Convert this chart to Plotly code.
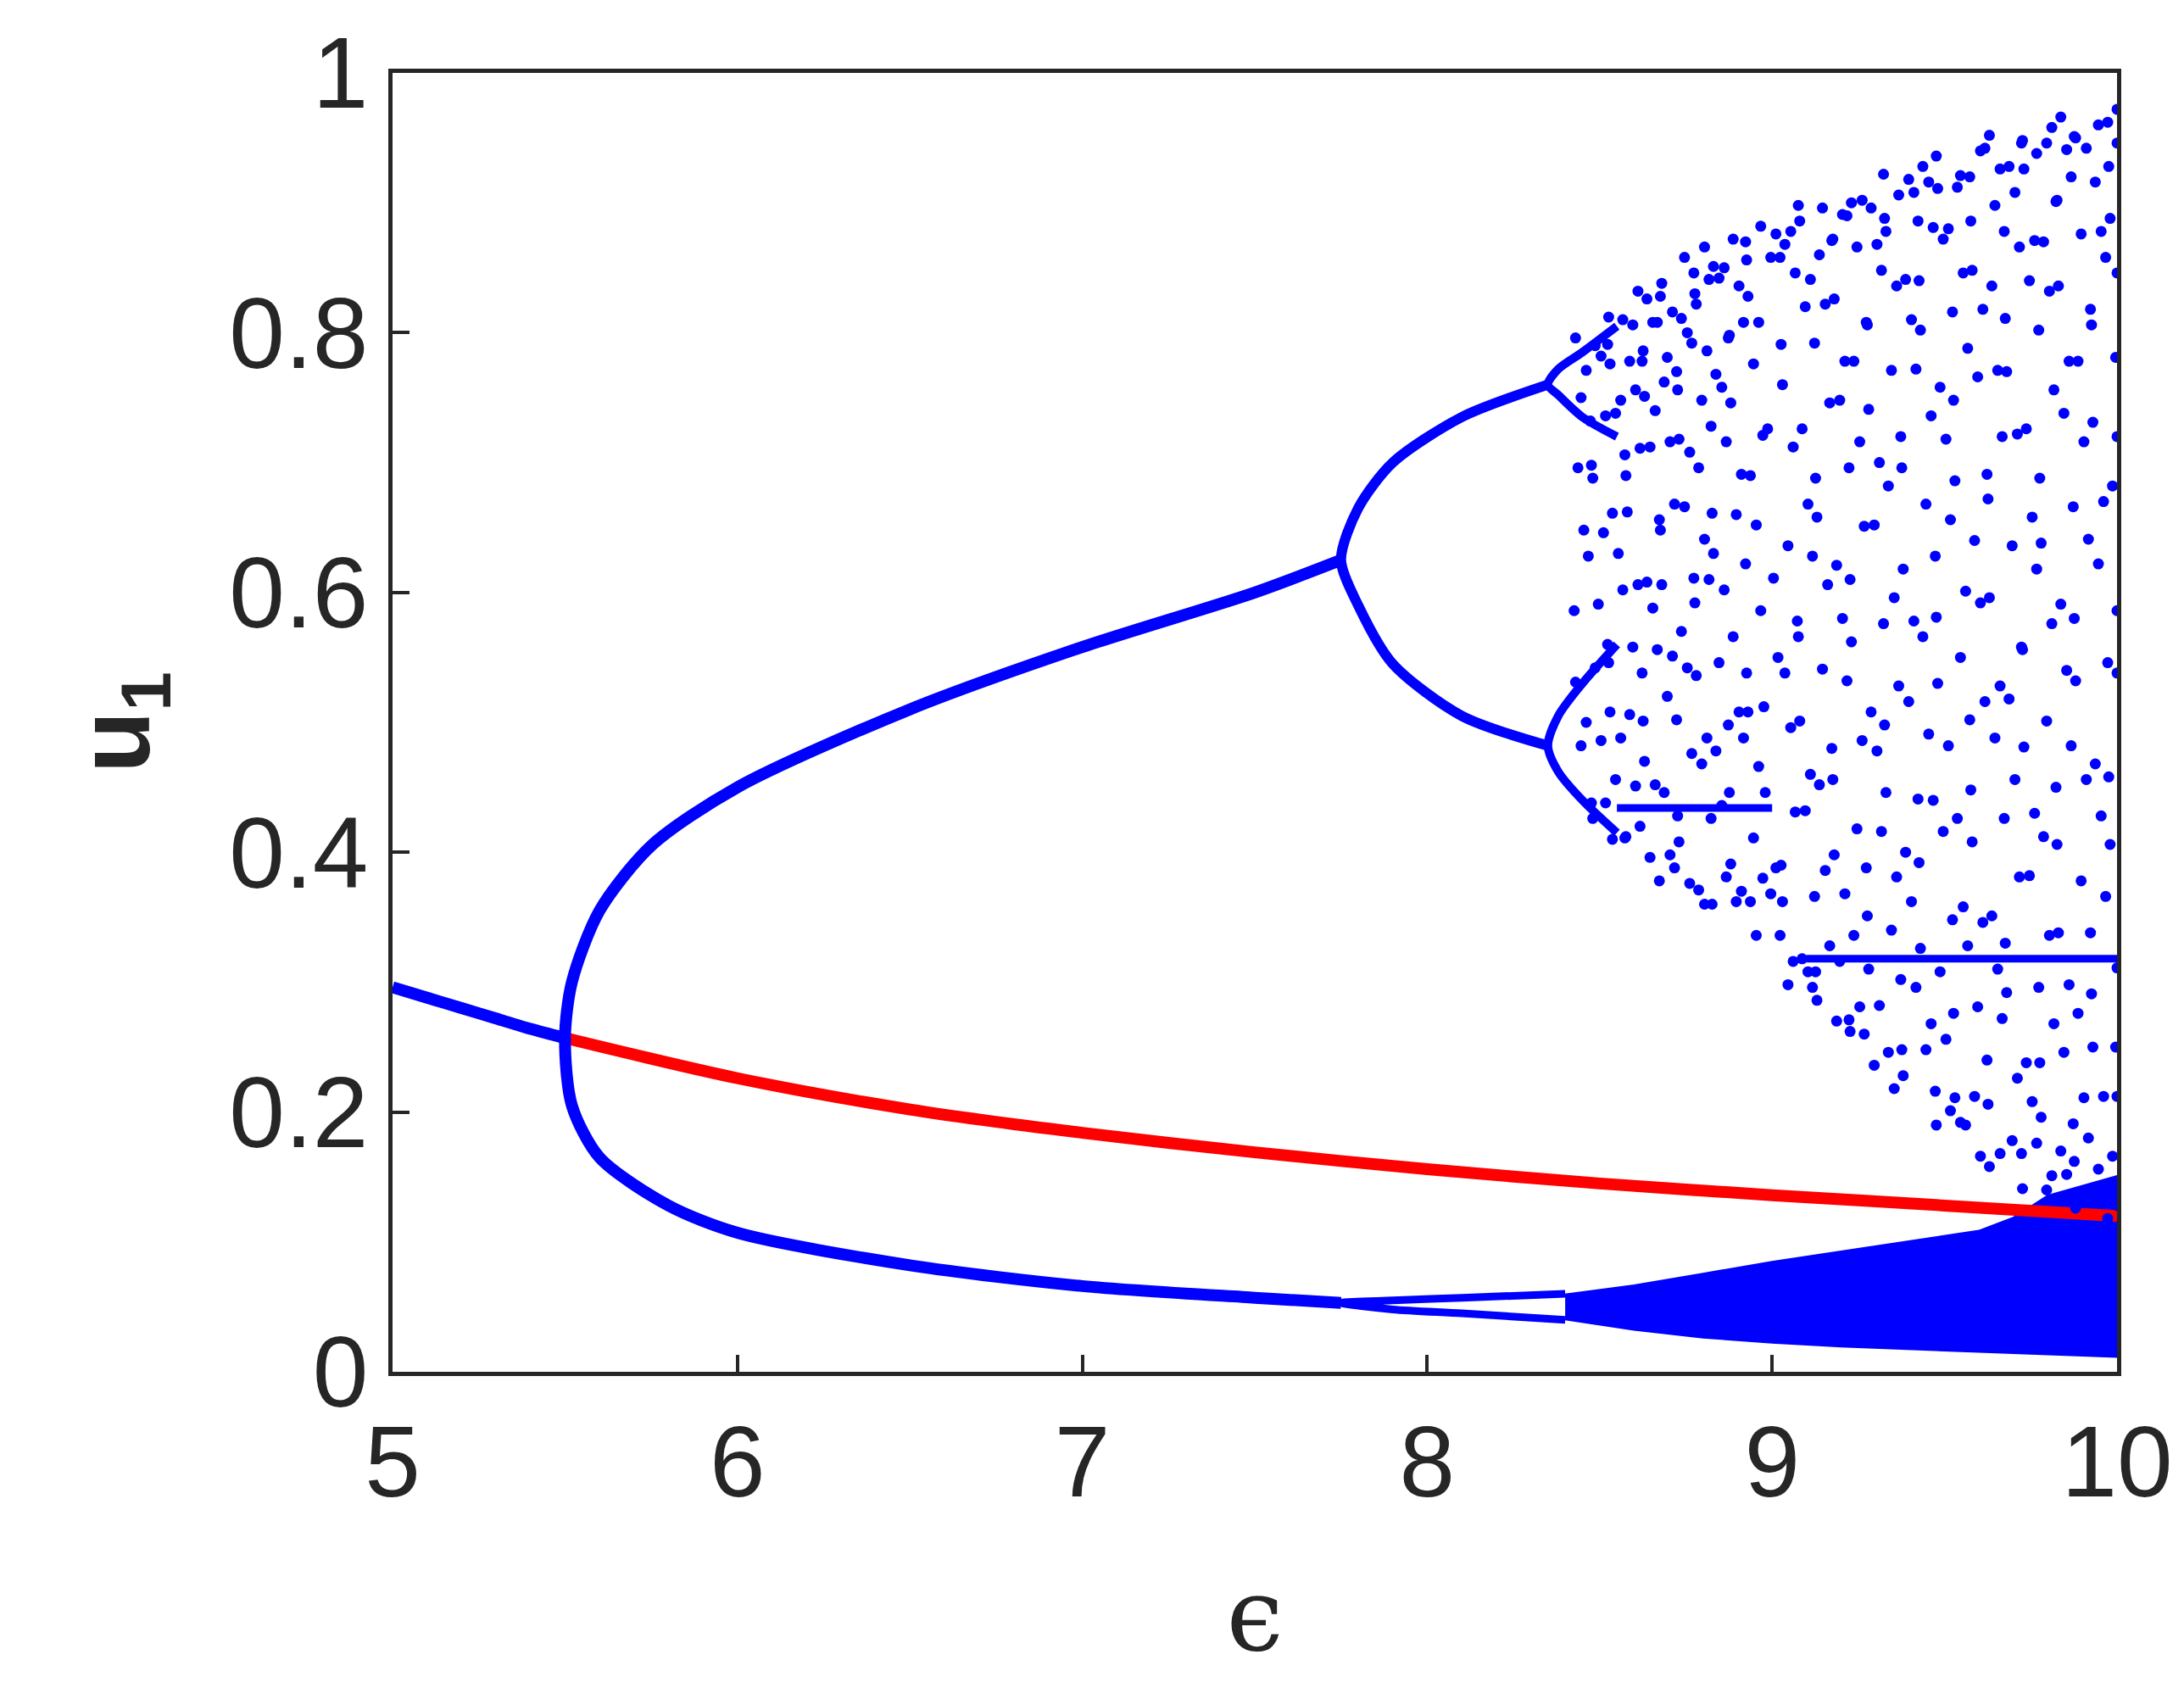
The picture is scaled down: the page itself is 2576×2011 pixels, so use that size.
import plotly.graph_objects as go

# single branch and its unstable continuation (red)
eps_fixed = [5.0, 5.1, 5.2, 5.3, 5.4, 5.5]
u_fixed = [0.296, 0.288, 0.280, 0.272, 0.264, 0.257]
eps_red = [5.5, 6.0, 6.5, 7.0, 7.5, 8.0, 8.5, 9.0, 9.5, 10.0]
u_red = [0.257, 0.226, 0.202, 0.184, 0.169, 0.156, 0.145, 0.136, 0.128, 0.120]

# period-2 branch (upper then lower, joined at the fold)
eps_p2 = [7.75, 7.5, 7.0, 6.5, 6.0, 5.75, 5.6, 5.52, 5.5, 5.52, 5.6, 5.8, 6.0, 6.5, 7.0, 7.5, 7.75]
u_p2 = [0.625, 0.600, 0.558, 0.510, 0.450, 0.405, 0.355, 0.300, 0.257, 0.205, 0.165, 0.128, 0.107, 0.082, 0.066, 0.057, 0.053]

# period-4 loops
eps_p4a = [8.35, 8.1, 7.9, 7.8, 7.75, 7.8, 7.9, 8.1, 8.35]
u_p4a = [0.760, 0.735, 0.700, 0.665, 0.625, 0.590, 0.545, 0.505, 0.482]
eps_p4b = [8.40, 8.1, 7.9, 7.75, 7.9, 8.1, 8.40]
u_p4b = [0.060, 0.057, 0.055, 0.053, 0.048, 0.045, 0.040]

# period-8 splits
eps_p8a = [8.55, 8.45, 8.38, 8.35, 8.38, 8.45, 8.55]
u_p8a = [0.805, 0.785, 0.772, 0.760, 0.752, 0.735, 0.720]
eps_p8b = [8.55, 8.45, 8.38, 8.35, 8.38, 8.45, 8.55]
u_p8b = [0.560, 0.530, 0.505, 0.482, 0.462, 0.440, 0.415]

# periodic window lines
eps_w1 = [8.55, 9.0]
u_w1 = [0.434, 0.434]
eps_w2 = [9.1, 10.0]
u_w2 = [0.318, 0.318]

# dense low band envelope
eps_band = [8.4, 8.6, 8.8, 9.0, 9.2, 9.4, 9.6, 9.7, 9.8, 10.0, 10.0, 9.8, 9.6, 9.4, 9.2, 9.0, 8.8, 8.6, 8.4]
u_band = [0.059, 0.066, 0.075, 0.084, 0.092, 0.100, 0.108, 0.118, 0.135, 0.150, 0.012, 0.014, 0.016, 0.018, 0.020, 0.023, 0.027, 0.033, 0.041]

# chaotic cloud, read column by column
cloud = {
    8.45: [0.79, 0.78, 0.75, 0.72, 0.70, 0.66, 0.62, 0.58, 0.54, 0.50, 0.47, 0.44],
    8.50: [0.80, 0.79, 0.77, 0.74, 0.71, 0.68, 0.64, 0.60, 0.56, 0.53, 0.49, 0.45, 0.43, 0.42],
    8.55: [0.81, 0.80, 0.78, 0.76, 0.73, 0.70, 0.67, 0.63, 0.59, 0.55, 0.52, 0.48, 0.45, 0.42, 0.41],
    8.60: [0.82, 0.81, 0.79, 0.77, 0.75, 0.72, 0.69, 0.65, 0.61, 0.57, 0.53, 0.50, 0.46, 0.42, 0.40],
    8.65: [0.83, 0.82, 0.80, 0.78, 0.76, 0.74, 0.70, 0.66, 0.62, 0.58, 0.55, 0.51, 0.47, 0.44, 0.40, 0.39],
    8.70: [0.84, 0.83, 0.81, 0.79, 0.77, 0.75, 0.72, 0.68, 0.64, 0.60, 0.56, 0.52, 0.49, 0.45, 0.41, 0.38],
    8.75: [0.85, 0.84, 0.82, 0.80, 0.78, 0.76, 0.73, 0.70, 0.66, 0.62, 0.57, 0.53, 0.48, 0.44, 0.40, 0.37],
    8.80: [0.86, 0.85, 0.83, 0.81, 0.79, 0.76, 0.72, 0.69, 0.65, 0.61, 0.58, 0.54, 0.50, 0.46, 0.42, 0.38, 0.36],
    8.85: [0.86, 0.85, 0.83, 0.80, 0.78, 0.75, 0.71, 0.67, 0.63, 0.59, 0.55, 0.51, 0.47, 0.43, 0.39, 0.36],
    8.90: [0.87, 0.86, 0.84, 0.82, 0.79, 0.74, 0.70, 0.66, 0.61, 0.57, 0.52, 0.48, 0.44, 0.40, 0.37, 0.35],
    8.95: [0.87, 0.86, 0.84, 0.80, 0.77, 0.73, 0.69, 0.64, 0.59, 0.55, 0.50, 0.46, 0.42, 0.38, 0.35, 0.34],
    9.00: [0.88, 0.87, 0.85, 0.72, 0.62, 0.55, 0.50, 0.45, 0.40, 0.36, 0.33],
    9.05: [0.88, 0.87, 0.84, 0.80, 0.76, 0.70, 0.64, 0.59, 0.53, 0.49, 0.44, 0.39, 0.35, 0.32, 0.31],
    9.10: [0.89, 0.88, 0.85, 0.82, 0.78, 0.73, 0.68, 0.62, 0.56, 0.51, 0.46, 0.42, 0.37, 0.33, 0.30, 0.29],
    9.15: [0.89, 0.88, 0.86, 0.81, 0.75, 0.70, 0.65, 0.60, 0.55, 0.48, 0.44, 0.39, 0.34, 0.30, 0.28],
    9.20: [0.90, 0.89, 0.86, 0.83, 0.79, 0.74, 0.69, 0.63, 0.58, 0.52, 0.46, 0.41, 0.36, 0.31, 0.28, 0.27],
    9.25: [0.90, 0.89, 0.87, 0.82, 0.77, 0.71, 0.66, 0.61, 0.55, 0.49, 0.43, 0.38, 0.33, 0.29, 0.26, 0.25],
    9.30: [0.91, 0.90, 0.88, 0.84, 0.80, 0.75, 0.70, 0.64, 0.58, 0.52, 0.47, 0.41, 0.36, 0.31, 0.27, 0.24],
    9.35: [0.91, 0.90, 0.87, 0.83, 0.78, 0.72, 0.67, 0.60, 0.54, 0.49, 0.44, 0.39, 0.34, 0.29, 0.25, 0.23],
    9.40: [0.92, 0.91, 0.88, 0.85, 0.81, 0.76, 0.70, 0.63, 0.57, 0.51, 0.45, 0.40, 0.35, 0.30, 0.26, 0.22],
    9.45: [0.92, 0.91, 0.89, 0.84, 0.79, 0.74, 0.68, 0.62, 0.56, 0.50, 0.44, 0.38, 0.33, 0.28, 0.24, 0.21],
    9.50: [0.93, 0.92, 0.88, 0.86, 0.82, 0.77, 0.71, 0.65, 0.59, 0.53, 0.47, 0.42, 0.36, 0.30, 0.25, 0.21, 0.19],
    9.55: [0.93, 0.92, 0.90, 0.85, 0.80, 0.74, 0.68, 0.61, 0.55, 0.49, 0.43, 0.37, 0.32, 0.27, 0.22, 0.19, 0.18],
    9.60: [0.94, 0.93, 0.89, 0.86, 0.81, 0.76, 0.70, 0.64, 0.58, 0.52, 0.46, 0.40, 0.34, 0.29, 0.24, 0.20, 0.17],
    9.65: [0.94, 0.93, 0.91, 0.87, 0.83, 0.78, 0.72, 0.66, 0.60, 0.54, 0.48, 0.42, 0.36, 0.31, 0.26, 0.21, 0.17, 0.16],
    9.70: [0.95, 0.94, 0.90, 0.86, 0.82, 0.77, 0.71, 0.64, 0.57, 0.51, 0.45, 0.39, 0.33, 0.28, 0.23, 0.19, 0.16],
    9.75: [0.95, 0.94, 0.92, 0.88, 0.84, 0.79, 0.73, 0.67, 0.61, 0.55, 0.49, 0.43, 0.37, 0.30, 0.25, 0.20, 0.17, 0.15],
    9.80: [0.95, 0.94, 0.91, 0.87, 0.82, 0.76, 0.70, 0.63, 0.57, 0.51, 0.45, 0.40, 0.34, 0.28, 0.23, 0.19, 0.16, 0.14],
    9.85: [0.96, 0.95, 0.92, 0.89, 0.84, 0.79, 0.73, 0.66, 0.60, 0.54, 0.47, 0.41, 0.35, 0.29, 0.24, 0.20, 0.17, 0.14],
    9.90: [0.96, 0.95, 0.93, 0.88, 0.83, 0.77, 0.71, 0.65, 0.58, 0.52, 0.46, 0.39, 0.33, 0.27, 0.22, 0.18, 0.15, 0.13],
    9.95: [0.96, 0.95, 0.92, 0.89, 0.85, 0.80, 0.74, 0.67, 0.61, 0.55, 0.48, 0.42, 0.36, 0.30, 0.25, 0.20, 0.16, 0.13],
    10.00: [0.96, 0.95, 0.94, 0.88, 0.84, 0.79, 0.72, 0.67, 0.59, 0.55, 0.45, 0.40, 0.32, 0.25, 0.20, 0.17, 0.14],
}
# small horizontal offsets used to break up the columns
col_shift = [-0.02, 0.011, -0.004, 0.023, -0.013, 0.004, 0.017, -0.024]
u_shift = [0.006, -0.009, 0.0, 0.012, -0.004, -0.012, 0.008]

cloud_eps, cloud_u = [], []
for j, (e, us) in enumerate(cloud.items()):
    for k, u in enumerate(us):
        cloud_eps.append(min(e + col_shift[(k + 3 * j) % 8], 10.0))
        cloud_u.append(u + u_shift[(k + j) % 7])

BLUE = "#0000ff"
RED = "#ff0000"
INK = "#262626"
fig = go.Figure()


def curve(x, y, color, w=14):
    fig.add_trace(go.Scatter(x=x, y=y, mode="lines",
                             line=dict(color=color, width=w, shape="spline", smoothing=0.8),
                             showlegend=False, hoverinfo="skip"))


fig.add_trace(go.Scatter(x=eps_band, y=u_band, mode="lines", fill="toself", fillcolor=BLUE,
                         line=dict(color=BLUE, width=4), showlegend=False))
curve(eps_red, u_red, RED)
curve(eps_fixed, u_fixed, BLUE)
curve(eps_p2, u_p2, BLUE)
curve(eps_p4a, u_p4a, BLUE, 12)
curve(eps_p4b, u_p4b, BLUE, 9)
curve(eps_p8a, u_p8a, BLUE, 10)
curve(eps_p8b, u_p8b, BLUE, 10)
curve(eps_w1, u_w1, BLUE, 9)
curve(eps_w2, u_w2, BLUE, 9)
fig.add_trace(go.Scatter(x=cloud_eps, y=cloud_u, mode="markers",
                         marker=dict(color=BLUE, size=13, line=dict(width=0)),
                         showlegend=False))

axis_common = dict(showgrid=False, zeroline=False, showline=True, linecolor=INK,
                   linewidth=5, mirror=True, ticks="inside", ticklen=20, tickwidth=4,
                   tickcolor=INK, tickfont=dict(size=118, color=INK, family="Liberation Sans"))
fig.update_xaxes(range=[5, 10], tickvals=[5, 6, 7, 8, 9, 10], **axis_common,
                 title=dict(text="ϵ", font=dict(size=120, color=INK, family="DejaVu Serif"),
                            standoff=75))
fig.update_yaxes(range=[0, 1], tickvals=[0, 0.2, 0.4, 0.6, 0.8, 1],
                 ticktext=["0", "0.2", "0.4", "0.6", "0.8", "1"], **axis_common,
                 title=dict(text="<b>u<sub>1</sub></b>",
                            font=dict(size=120, color=INK, family="Liberation Sans"),
                            standoff=55))
fig.update_layout(width=2576, height=2011, plot_bgcolor="white", paper_bgcolor="white",
                  margin=dict(l=455, r=87, t=69, b=401))
fig.write_html("out.html")
